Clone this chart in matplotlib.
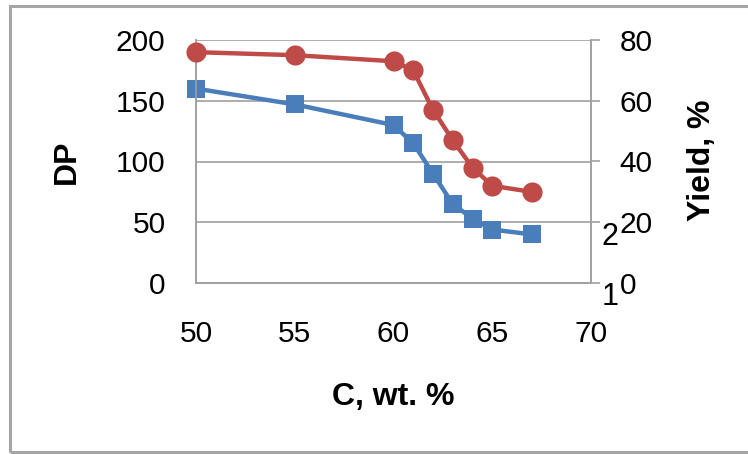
import matplotlib
matplotlib.use("Agg")
import matplotlib.pyplot as plt
from matplotlib.patches import Rectangle

plt.rcParams['font.family'] = ['Liberation Sans', 'DejaVu Sans']

# Carbon content, wt. %
carbon = [50, 55, 60, 61, 62, 63, 64, 65, 67]
# Degree of polymerisation (left axis)
dp = [160, 147, 130, 115, 90, 65, 53, 44, 40]
# Yield, % (right axis)
yield_pct = [76, 75, 73, 70, 57, 47, 38, 32, 30]

x_ticks = [50, 55, 60, 65, 70]
dp_ticks = [0, 50, 100, 150, 200]
yield_ticks = [0, 20, 40, 60, 80]

W, H = 748, 454
fig = plt.figure(figsize=(W / 100, H / 100), dpi=100)

# outer frame
fig.add_artist(Rectangle((9.5 / W, 2.5 / H), 760 / W, (451 - 5) / H,
                         transform=fig.transFigure, fill=False,
                         edgecolor='#a6a6a6', linewidth=2.2, zorder=0))

ax = fig.add_axes([196 / W, 1 - 283 / H, 395 / W, 243 / H])
ax2 = ax.twinx()

grid_c = '#a0a0a0'
blue = '#4a7ebb'
red = '#be4b48'

ax.plot(carbon, dp, color=blue, lw=3.2, marker='s', ms=13.5,
        markeredgewidth=0, clip_on=False, zorder=3)
ax2.plot(carbon, yield_pct, color=red, lw=3.2, marker='o', ms=14.5,
         markeredgewidth=0, clip_on=False, zorder=3)

ax.set_xlim(50, 70)
ax.set_ylim(0, 200)
ax2.set_ylim(0, 80)
ax.set_xticks(x_ticks)
ax.set_yticks(dp_ticks)
ax2.set_yticks(yield_ticks)

ax.grid(axis='y', color=grid_c, lw=1.2)
ax.set_axisbelow(True)

for a in (ax, ax2):
    a.spines['top'].set_visible(False)
    for side in ('left', 'right', 'bottom'):
        a.spines[side].set_color(grid_c)
        a.spines[side].set_linewidth(1.2)

tick_fs = 21.5
label_fs = 23
ax.tick_params(axis='x', length=0, pad=27, labelsize=tick_fs)
ax.tick_params(axis='y', length=0, pad=22, labelsize=tick_fs)
ax2.tick_params(axis='y', length=6.5, width=1.2, color=grid_c,
                pad=14, labelsize=tick_fs)

ax.set_xlabel('C, wt. %', fontsize=label_fs, fontweight='bold')
ax.xaxis.set_label_coords((393 - 196) / 395, (283 - 397) / 243)
ax.xaxis.label.set_va('center')

ax.set_ylabel('DP', fontsize=label_fs, fontweight='bold')
ax.yaxis.set_label_coords((67 - 196) / 395, (283 - 162) / 243)
ax.yaxis.label.set_va('center')

ax2.set_ylabel('Yield, %', fontsize=label_fs, fontweight='bold')
ax2.yaxis.set_label_coords((702 - 196) / 395, (283 - 160) / 243)
ax2.yaxis.label.set_va('center')

# curve numbers next to the right axis
fig.text(610 / W, 1 - 237 / H, '2', fontsize=22, ha='center', va='center')
fig.text(610 / W, 1 - 297 / H, '1', fontsize=22, ha='center', va='center')

fig.savefig('out.png', dpi=100)
